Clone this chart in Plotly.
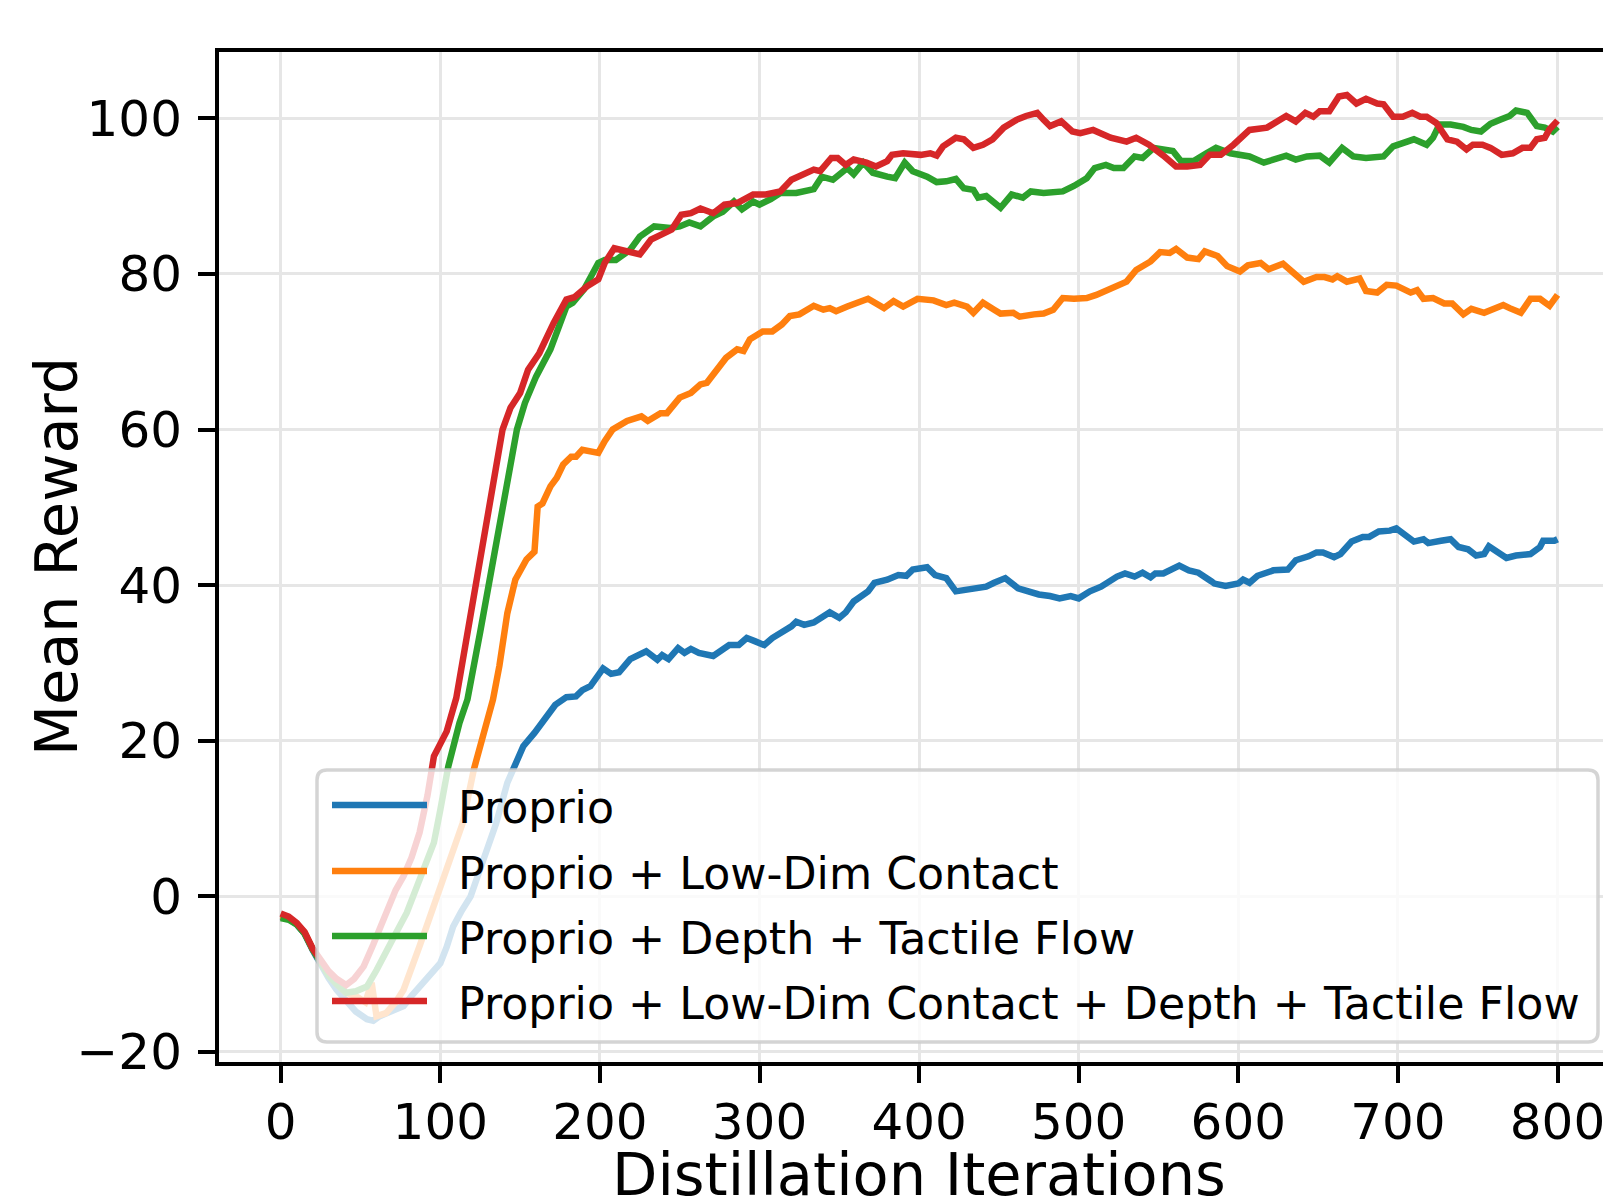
import plotly.graph_objects as go

# ---------------- data ----------------
series_names = [
    "Proprio",
    "Proprio + Low-Dim Contact",
    "Proprio + Depth + Tactile Flow",
    "Proprio + Low-Dim Contact + Depth + Tactile Flow",
]
series_colors = ["#1f77b4", "#ff7f0e", "#2ca02c", "#d62728"]

proprio_x = [0, 5, 10, 15, 20, 25, 30, 35, 41, 47, 54, 58, 62, 66, 72, 77, 82, 87, 93, 100, 104, 108,
             113, 119, 127, 135, 142, 148, 152, 159, 166, 172, 179, 185, 189, 194, 202, 207, 212, 219,
             229, 236, 239, 243, 249, 253, 257, 262, 271, 281, 287, 292, 297, 303, 308, 315, 320, 323,
             328, 334, 340, 344, 350, 354, 359, 368, 372, 380, 387, 392, 396, 405, 410, 417, 423, 428,
             435, 442, 447, 454, 462, 468, 475, 482, 488, 495, 500, 507, 514, 524, 529, 535, 540, 545,
             548, 553, 563, 569, 575, 583, 585, 592, 600, 603, 607, 612, 617, 622, 631, 636, 644, 649,
             653, 660, 664, 671, 678, 682, 688, 695, 699, 705, 710, 716, 719, 727, 733, 738, 744, 749,
             754, 757, 763, 768, 774, 783, 789, 791, 798, 800]
proprio_y = [-2.6, -2.9, -3.6, -4.8, -6.9, -8.8, -10.5, -12.0, -13.3, -14.8, -15.8, -16.0, -15.4, -15.0,
             -14.6, -14.1, -12.8, -11.6, -10.3, -8.6, -6.5, -3.9, -2.0, 0.0, 4.7, 9.4, 14.6, 17.6, 19.3,
             21.0, 23.1, 24.6, 25.6, 25.7, 26.5, 27.0, 29.3, 28.6, 28.8, 30.5, 31.5, 30.4, 31.0, 30.5,
             31.9, 31.3, 31.8, 31.3, 30.9, 32.3, 32.3, 33.2, 32.8, 32.3, 33.2, 34.0, 34.7, 35.3, 34.9,
             35.2, 36.1, 36.5, 35.8, 36.5, 37.9, 39.2, 40.3, 40.7, 41.3, 41.2, 42.0, 42.3, 41.3, 40.9,
             39.2, 39.4, 39.6, 39.8, 40.3, 40.9, 39.6, 39.2, 38.8, 38.6, 38.3, 38.6, 38.3, 39.2, 39.8,
             41.1, 41.5, 41.1, 41.6, 41.0, 41.5, 41.5, 42.5, 41.9, 41.6, 40.5, 40.2, 39.9, 40.2, 40.7,
             40.3, 41.2, 41.5, 41.9, 42.0, 43.2, 43.7, 44.2, 44.2, 43.6, 44.0, 45.6, 46.2, 46.2, 46.9,
             47.0, 47.3, 46.3, 45.6, 45.9, 45.4, 45.7, 45.9, 44.9, 44.6, 43.8, 44.0, 45.0, 44.1, 43.5,
             43.8, 44.0, 44.9, 45.7, 45.7, 45.9]

contact_x = [0, 5, 10, 15, 20, 25, 30, 35, 41, 47, 53, 57, 60, 66, 72, 77, 82, 87, 92, 98, 106, 114, 121,
             127, 133, 137, 142, 147, 154, 159, 161, 164, 169, 173, 177, 182, 185, 189, 195, 199, 203, 208,
             217, 226, 230, 238, 242, 250, 257, 263, 267, 273, 279, 286, 290, 294, 302, 308, 314, 319, 325,
             334, 340, 344, 348, 355, 361, 368, 378, 384, 390, 399, 409, 417, 422, 430, 434, 440, 447, 451,
             459, 463, 472, 478, 484, 490, 497, 505, 511, 518, 523, 530, 536, 545, 551, 557, 561, 568, 575,
             579, 587, 593, 601, 606, 614, 619, 628, 635, 641, 649, 654, 659, 662, 668, 676, 680, 687, 693,
             699, 708, 712, 716, 722, 729, 734, 741, 746, 754, 760, 766, 770, 777, 783, 789, 795, 800]
contact_y = [-2.5, -2.8, -3.5, -4.7, -6.8, -8.5, -10.0, -11.2, -12.4, -12.8, -13.6, -11.1, -15.4, -15.0,
             -13.6, -12.0, -9.4, -6.4, -3.5, 0.0, 4.7, 9.4, 16.3, 21.0, 25.3, 29.6, 36.4, 40.7, 43.3, 44.3,
             50.1, 50.5, 52.7, 53.8, 55.5, 56.5, 56.5, 57.4, 57.2, 57.0, 58.5, 60.0, 61.1, 61.7, 61.1, 62.1,
             62.1, 64.1, 64.7, 65.8, 66.0, 67.7, 69.2, 70.3, 70.1, 71.6, 72.6, 72.6, 73.5, 74.6, 74.8, 75.9,
             75.4, 75.6, 75.2, 75.8, 76.3, 76.8, 75.6, 76.5, 75.8, 76.8, 76.6, 76.0, 76.3, 75.8, 75.0, 76.3,
             75.4, 74.9, 75.0, 74.5, 74.8, 74.9, 75.4, 76.9, 76.8, 76.9, 77.3, 78.0, 78.5, 79.0, 80.5, 81.6,
             82.8, 82.7, 83.2, 82.1, 81.9, 82.9, 82.3, 81.0, 80.3, 81.1, 81.4, 80.6, 81.3, 80.2, 79.0, 79.6,
             79.6, 79.3, 79.7, 79.0, 79.4, 77.8, 77.6, 78.6, 78.5, 77.6, 77.9, 76.8, 76.9, 76.2, 76.2, 74.8,
             75.5, 75.0, 75.6, 76.0, 75.6, 75.0, 76.8, 76.8, 75.9, 77.3]

depth_x = [0, 5, 10, 15, 20, 25, 30, 35, 41, 47, 54, 60, 66, 72, 79, 87, 92, 96, 100, 105, 112, 117, 125,
           135, 142, 148, 153, 160, 169, 175, 179, 183, 190, 199, 203, 210, 219, 225, 234, 244, 250, 256,
           263, 271, 277, 284, 289, 296, 300, 307, 313, 323, 334, 339, 346, 355, 359, 365, 371, 380, 385,
           391, 396, 405, 411, 417, 423, 428, 434, 437, 442, 451, 458, 465, 470, 478, 484, 490, 497, 501,
           505, 510, 517, 522, 528, 535, 540, 547, 553, 559, 564, 572, 580, 586, 595, 607, 616, 624, 630,
           636, 643, 651, 657, 665, 672, 680, 691, 697, 703, 710, 718, 722, 726, 733, 741, 746, 752, 758,
           764, 770, 774, 781, 787, 792, 797, 800]
depth_y = [-2.8, -3.0, -3.6, -4.8, -6.8, -8.6, -10.2, -11.3, -12.4, -12.2, -11.6, -9.5, -7.3, -4.8, -2.1,
           2.1, 4.8, 6.9, 11.1, 16.7, 22.3, 25.3, 34.0, 45.0, 53.0, 60.0, 63.4, 66.8, 70.3, 73.3, 75.8,
           76.3, 78.0, 81.4, 81.8, 81.8, 83.1, 84.8, 86.1, 85.9, 86.1, 86.6, 86.1, 87.4, 88.0, 89.3, 88.3,
           89.3, 88.9, 89.6, 90.4, 90.4, 90.9, 92.5, 92.1, 93.6, 92.8, 94.3, 93.0, 92.5, 92.3, 94.3, 93.2,
           92.5, 91.8, 91.9, 92.2, 91.0, 90.8, 89.8, 90.0, 88.5, 90.2, 89.8, 90.6, 90.4, 90.6, 90.6, 91.3,
           91.7, 92.3, 93.6, 94.0, 93.6, 93.6, 95.1, 94.9, 96.2, 96.0, 95.8, 94.5, 94.5, 95.5, 96.2, 95.5,
           95.1, 94.3, 94.9, 95.2, 94.7, 95.1, 95.2, 94.3, 96.2, 95.1, 94.9, 95.1, 96.4, 96.8, 97.3, 96.6,
           97.5, 99.2, 99.2, 98.9, 98.5, 98.3, 99.3, 99.8, 100.3, 101.0, 100.7, 99.0, 98.8, 98.3, 98.9]

full_x = [0, 5, 10, 15, 20, 25, 30, 35, 41, 46, 52, 58, 66, 72, 77, 82, 87, 92, 96, 100, 104, 110, 120,
          130, 139, 144, 150, 155, 162, 171, 179, 184, 192, 199, 203, 209, 219, 225, 232, 239, 245, 251,
          257, 263, 271, 278, 286, 296, 304, 313, 320, 334, 338, 345, 349, 354, 359, 367, 373, 380, 383,
          390, 401, 407, 411, 415, 423, 428, 434, 440, 446, 453, 461, 467, 474, 478, 482, 489, 496, 501,
          509, 520, 530, 536, 544, 553, 561, 568, 576, 582, 589, 597, 603, 607, 618, 624, 630, 636, 642,
          647, 651, 657, 663, 668, 674, 680, 687, 691, 697, 703, 709, 714, 718, 724, 731, 737, 743, 747,
          753, 758, 765, 772, 778, 783, 787, 792, 795, 800]
full_y = [-2.2, -2.6, -3.4, -4.6, -6.7, -8.3, -9.6, -10.6, -11.4, -10.6, -9.0, -6.2, -2.1, 0.8, 2.6, 5.0,
          8.2, 13.0, 18.0, 19.8, 21.2, 25.5, 37.0, 48.5, 60.0, 62.8, 64.7, 67.7, 69.8, 73.7, 76.7, 77.0,
          78.4, 79.3, 81.4, 83.3, 82.9, 82.5, 84.4, 85.0, 85.7, 87.6, 87.8, 88.4, 87.8, 88.9, 89.1, 90.2,
          90.2, 90.6, 92.1, 93.4, 93.2, 94.9, 94.9, 94.0, 94.7, 94.3, 93.8, 94.5, 95.3, 95.5, 95.3, 95.5,
          95.2, 96.4, 97.5, 97.3, 96.2, 96.6, 97.3, 98.8, 99.8, 100.3, 100.7, 99.8, 99.0, 99.6, 98.3, 98.1,
          98.5, 97.5, 97.0, 97.5, 96.6, 95.2, 93.8, 93.8, 94.0, 95.3, 95.3, 96.6, 97.6, 98.5, 98.8, 99.6,
          100.3, 99.6, 100.7, 100.2, 100.9, 100.9, 102.8, 103.0, 101.9, 102.5, 101.9, 101.8, 100.2, 100.2,
          100.7, 100.2, 100.2, 99.4, 97.3, 97.0, 96.0, 96.6, 96.6, 96.2, 95.3, 95.5, 96.2, 96.2, 97.3, 97.5,
          98.6, 99.7]

x_tick_vals = [0, 100, 200, 300, 400, 500, 600, 700, 800]
x_tick_text = ["0", "100", "200", "300", "400", "500", "600", "700", "800"]
y_tick_vals = [-20, 0, 20, 40, 60, 80, 100]
y_tick_text = ["\u221220", "0", "20", "40", "60", "80", "100"]

x_title = "Distillation Iterations"
y_title = "Mean Reward"

# ---------------- figure ----------------
OFF = 8                      # default page (body) margin of the html page
W, H = 1611 - OFF, 1197 - OFF
L, R, T, B = 211, 0, 44, 135
PW, PH = W - L - R, H - T - B
FONT = "DejaVu Sans"


def px(x):
    """screen pixel x -> paper coordinate"""
    return (x - OFF - L) / PW


def py(y):
    """screen pixel y -> paper coordinate"""
    return (H - B - (y - OFF)) / PH


fig = go.Figure()
xs = [proprio_x, contact_x, depth_x, full_x]
ys = [proprio_y, contact_y, depth_y, full_y]
for name, color, sx, sy in zip(series_names, series_colors, xs, ys):
    fig.add_trace(go.Scatter(x=sx, y=sy, mode="lines", name=name,
                             line=dict(color=color, width=6.5), showlegend=False))

# custom legend (matplotlib-like)
lx0, lx1, ly0, ly1, rad = 317, 1598, 770, 1042, 10
rx, ry = rad / PW, rad / PH
X0, X1, YT, YB = px(lx0), px(lx1), py(ly0), py(ly1)
path = (f"M{X0+rx},{YT} L{X1-rx},{YT} Q{X1},{YT} {X1},{YT-ry} L{X1},{YB+ry} "
        f"Q{X1},{YB} {X1-rx},{YB} L{X0+rx},{YB} Q{X0},{YB} {X0},{YB+ry} "
        f"L{X0},{YT-ry} Q{X0},{YT} {X0+rx},{YT} Z")
shapes = [dict(type="path", path=path, xref="paper", yref="paper",
               fillcolor="rgba(255,255,255,0.8)",
               line=dict(color="rgba(204,204,204,0.85)", width=3.5), layer="above")]
row_y = [805, 871, 936, 1001]
annotations = []
for name, color, yy in zip(series_names, series_colors, row_y):
    shapes.append(dict(type="line", xref="paper", yref="paper", x0=px(332), x1=px(427),
                       y0=py(yy), y1=py(yy), line=dict(color=color, width=6.5), layer="above"))
    annotations.append(dict(text=name, xref="paper", yref="paper", x=px(456), y=py(yy + 2),
                            xanchor="left", yanchor="middle", showarrow=False,
                            font=dict(family=FONT, size=44.3, color="black")))

annotations.append(dict(text=x_title, xref="paper", yref="paper", x=px(919), y=py(1174),
                        xanchor="center", yanchor="middle", showarrow=False,
                        font=dict(family=FONT, size=59, color="black")))
annotations.append(dict(text=y_title, xref="paper", yref="paper", x=px(56), y=py(557),
                        xanchor="center", yanchor="middle", showarrow=False, textangle=-90,
                        font=dict(family=FONT, size=59, color="black")))

axis_common = dict(showline=True, linewidth=4, linecolor="black", ticks="outside", ticklen=17,
                   tickwidth=3.8, tickcolor="black", showgrid=True, gridcolor="#e6e6e6",
                   gridwidth=3, zeroline=False, tickfont=dict(family=FONT, size=50, color="black"))

fig.update_layout(
    width=W, height=H, margin=dict(l=L, r=R, t=T, b=B, pad=0),
    paper_bgcolor="white", plot_bgcolor="white",
    font=dict(family=FONT, color="black"),
    xaxis=dict(range=[-38.66, 833.5], tickmode="array", tickvals=x_tick_vals, ticktext=x_tick_text,
               mirror=True, ticklabelstandoff=-4, **axis_common),
    yaxis=dict(range=[-21.29, 108.52], tickmode="array", tickvals=y_tick_vals, ticktext=y_tick_text,
               mirror=False, ticklabelstandoff=6, **axis_common),
    shapes=shapes, annotations=annotations, showlegend=False,
)

fig.write_html("out.html")
